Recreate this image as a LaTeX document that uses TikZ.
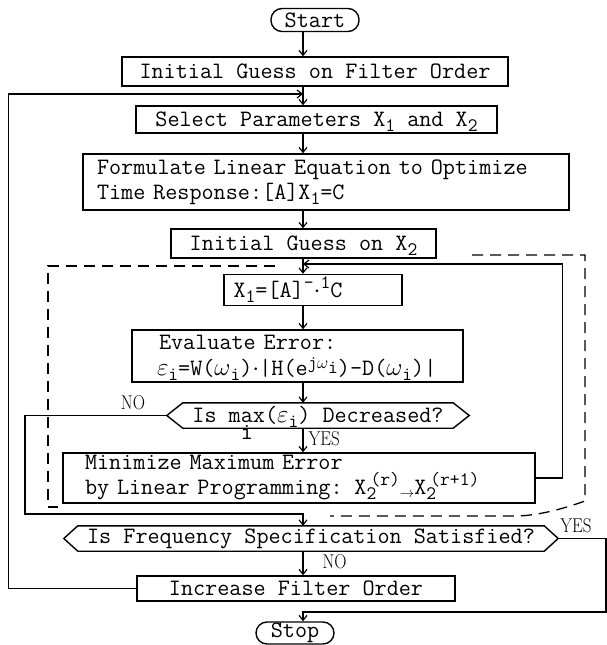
\documentclass[tikz,border=0pt]{standalone}
\usetikzlibrary{arrows.meta,calc}
% typewriter-style lowered and raised indices
\newcommand{\lowr}[1]{\smash{\raisebox{-5pt}{\fontsize{19}{20}\selectfont #1}}}
\newcommand{\upr}[1]{\smash{\raisebox{9pt}{\fontsize{19}{20}\selectfont #1}}}
\newcommand{\uprlow}[1]{\smash{\raisebox{7pt}{\fontsize{18}{19}\selectfont #1}}}
\newcommand{\slimtag}[1]{\scalebox{0.85}[1]{#1}}
\begin{document}
\begin{tikzpicture}[x=1pt,y=-1pt,
  every node/.style={font=\ttfamily\fontsize{23.5}{25}\selectfont, inner sep=0pt},
  stepbox/.style={draw, line width=1.4pt, rectangle},
  termbox/.style={stepbox, rounded corners=11pt},
  hexline/.style={line width=1.4pt},
  flow/.style={line width=1.3pt, -{Straight Barb[length=5pt,width=8pt,line width=1.2pt]}},
  fence/.style={line width=1.3pt, dash pattern=on 11pt off 7pt},
  lbl/.style={font=\rmfamily\fontsize{20}{21}\selectfont}
]
\fill[white] (0,0) rectangle (607,645);
\useasboundingbox (0,0) rectangle (607,645);

% main column of steps
\node[termbox, minimum width=88pt, minimum height=23pt] (start) at (315,20) {Start};
\node[stepbox, minimum width=386pt, minimum height=29pt] (init) at (315,71.5) {Initial Guess on Filter Order};
\node[stepbox, minimum width=361pt, minimum height=27pt] (select) at (316.5,119.5) {Select Parameters X\lowr{1} and X\lowr{2}};
\node[stepbox, minimum width=486pt, minimum height=56pt, text width=458pt, align=left] (form) at (326,182)
  {Formulate Linear Equation to Optimize\\Time Response:[A]X\lowr{1}=C};
\node[stepbox, minimum width=265pt, minimum height=29pt] (guess2) at (303.5,243.5) {Initial Guess on X\lowr{2}};
\node[stepbox, minimum width=178pt, minimum height=31pt] (solve) at (313,290)
  {X\lowr{1}=[A]\upr{-}$\cdot$\upr{1}C\hspace*{50pt}};
\node[stepbox, minimum width=331pt, minimum height=52pt, text width=281pt, align=left,
      font=\ttfamily\fontsize{23.5}{26}\selectfont] (eval) at (297.5,356)
  {\hspace*{2pt}Evaluate Error:\\$\varepsilon$\lowr{i}=W($\omega$\lowr{i})$\cdot$|H(e\uprlow{j$\omega$\lowr{i}})-D($\omega$\lowr{i})|};
\node[minimum width=270pt, minimum height=25pt] (dec) at (318,415.5)
  {Is m\rlap{\smash{\raisebox{-17pt}{i}}}ax($\varepsilon$\lowr{i}) Decreased?};
\node[stepbox, minimum width=472pt, minimum height=50pt, text width=428pt, align=left] (minim) at (299,478)
  {Minimize Maximum Error\\by Linear Programming: X\rlap{\lowr{2}}\hspace*{4pt}\upr{(r)}\raisebox{-3pt}{\fontsize{15}{15}\selectfont$\rightarrow$}X\rlap{\lowr{2}}\hspace*{4pt}\upr{(r+1)}};
\node[minimum width=466pt, minimum height=25pt] (freq) at (311,538.5) {Is Frequency Specification Satisfied?};
\node[stepbox, minimum width=318pt, minimum height=25pt] (incr) at (296,588.5) {Increase Filter Order};
\node[termbox, minimum width=78pt, minimum height=22pt] (stop) at (295,633) {Stop};

% pointed outlines of the two decisions
\coordinate (decL) at ($(dec.west)+(-16,0)$);
\coordinate (decR) at ($(dec.east)+(16,0)$);
\coordinate (freqL) at ($(freq.west)+(-14,0)$);
\coordinate (freqR) at ($(freq.east)+(14,0)$);
\draw[hexline] (dec.north west) -- (dec.north east) -- (decR) -- (dec.south east) -- (dec.south west) -- (decL) -- cycle;
\draw[hexline] (freq.north west) -- (freq.north east) -- (freqR) -- (freq.south east) -- (freq.south west) -- (freqL) -- cycle;

% flow column and junctions
\coordinate (cx) at (303,0);
\coordinate (jtop) at (303,94);
\coordinate (jmid) at (303,264);
\coordinate (nobend) at (25,514);
\coordinate (yesbend) at (606,612);

\draw[flow] (start.south -| cx) -- (init.north -| cx);
\draw[flow] (init.south -| cx) -- (select.north -| cx);
\draw[flow] (select.south -| cx) -- (form.north -| cx);
\draw[flow] (form.south -| cx) -- (guess2.north -| cx);
\draw[flow] (guess2.south -| cx) -- (solve.north -| cx);
\draw[flow] (solve.south -| cx) -- (eval.north -| cx);
\draw[flow] (eval.south -| cx) -- (dec.north -| cx);
\draw[flow] (dec.south -| cx) -- node[lbl, right, xshift=5pt, pos=0.45] (yes1) {\slimtag{YES}} (minim.north -| cx);
\draw[flow] (freq.south -| cx) -- node[lbl, right, xshift=19pt, pos=0.45] (no2) {\slimtag{NO}} (incr.north -| cx);

% loops back into the column
\draw[flow] (incr.west) -- ++(-128,0) |- (jtop);
\draw[flow] (minim.east) -- ++(27,0) |- (jmid);
\draw[flow] (decL) -| (nobend) -| (freq.north -| cx);
\draw[flow] (freqR) -| (yesbend) -| (stop.north -| cx);
\node[lbl] (no1) at (133,403) {\slimtag{NO}};
\node[lbl] (yes2) at (576,526) {\slimtag{YES}};

% dashed enclosure of the inner iteration
\draw[fence] (275,266) -- (48,266) -- (48,507) -- (58,507);
\draw[fence] (472,255) -- (585,255) -- (585,501) .. controls (560,510) and (535,516) .. (515,516) -- (330,516);
\end{tikzpicture}
\end{document}
